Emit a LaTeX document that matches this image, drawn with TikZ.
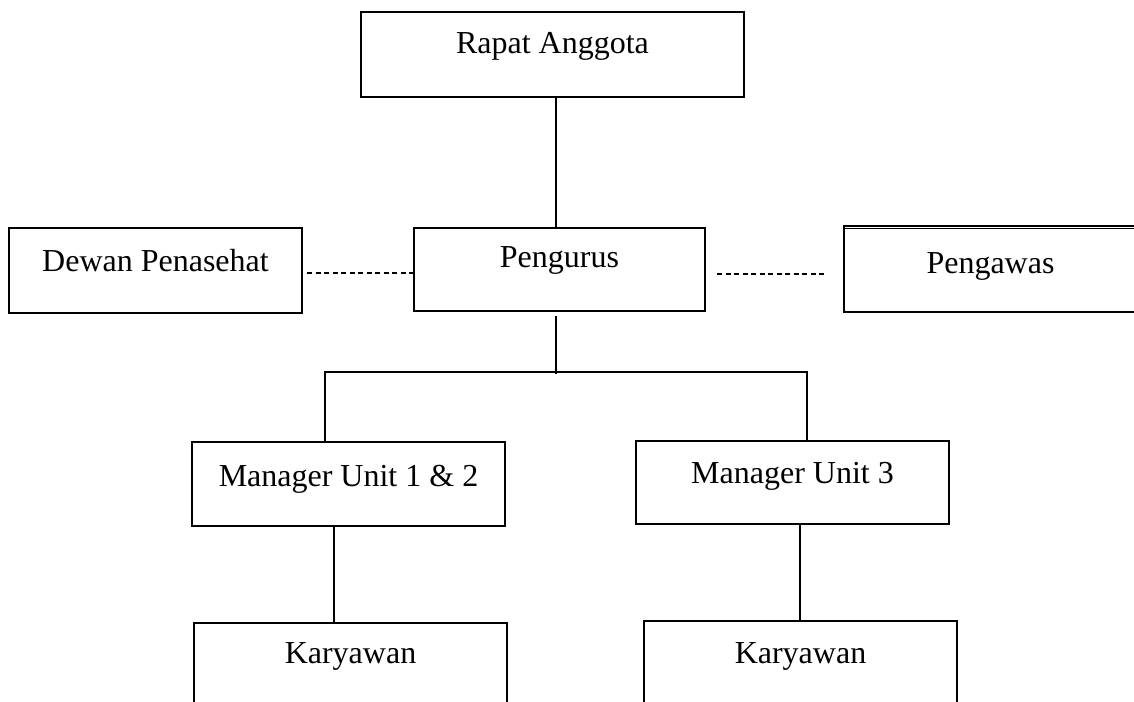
\documentclass[tikz,border=0pt]{standalone}
\usepackage{fontspec}
\setmainfont{Liberation Serif}
\usepackage{tikz}

\begin{document}
\begin{tikzpicture}[
  x=1pt, y=-1pt,
  every node/.style={font=\fontsize{32}{38}\selectfont},
  box/.style={draw, line width=1.2pt, inner sep=0pt, anchor=base},
  conn/.style={line width=1.2pt},
  dashline/.style={line width=1.2pt, dash pattern=on 5pt off 3.5pt}]
  \clip (0,0) rectangle (1134,701);
  % top level
  \node[box, minimum width=383pt, text height=42pt, text depth=43pt] (rapat) at (552.5,54) {Rapat Anggota};
  % second row
  \node[box, minimum width=293pt, text height=43pt, text depth=42pt] (dewan) at (155.5,271) {Dewan Penasehat};
  \node[box, minimum width=291pt, text height=39pt, text depth=44pt] (pengurus) at (559.5,267) {Pengurus};
  \node[box, minimum width=293pt, text height=47pt, text depth=39pt] (pengawas) at (990.5,273) {Pengawas};
  \draw[conn] ([yshift=-2.7pt]pengawas.north west) -- ([yshift=-2.7pt]pengawas.north east);
  % managers
  \node[box, minimum width=313pt, text height=44pt, text depth=40pt] (m12) at (348.5,486) {Manager Unit 1 \& 2};
  \node[box, minimum width=313pt, text height=42pt, text depth=41pt] (m3) at (792.5,483) {Manager Unit 3};
  % karyawan
  \node[box, minimum width=313pt, text height=40pt, text depth=60pt] (kar1) at (350.5,663) {Karyawan};
  \node[box, minimum width=313pt, text height=42pt, text depth=60pt] (kar2) at (800.5,663) {Karyawan};
  % spine Rapat -- Pengurus
  \coordinate (spine) at (556,0);
  \draw[conn] (rapat.south -| spine) -- (pengurus.north -| spine);
  % dashed links
  \coordinate (dl) at (307,273);
  \coordinate (dr1) at (717,274);
  \coordinate (dr2) at (826,274);
  \draw[dashline] (dl) -- (dl -| pengurus.west);
  \draw[dashline] (dr1) -- (dr2);
  % branch to managers
  \coordinate (busL) at (325,372);
  \coordinate (busR) at (807,372);
  \draw[conn] ([yshift=-4pt]pengurus.south -| spine) -- ([yshift=-2pt]spine |- busL);
  \draw[conn] (m12.north -| busL) -- (busL) -- (busR) -- (m3.north -| busR);
  % managers to karyawan
  \coordinate (dropL) at (334,0);
  \coordinate (dropR) at (800,0);
  \draw[conn] (m12.south -| dropL) -- (kar1.north -| dropL);
  \draw[conn] (m3.south -| dropR) -- (kar2.north -| dropR);
\end{tikzpicture}
\end{document}
